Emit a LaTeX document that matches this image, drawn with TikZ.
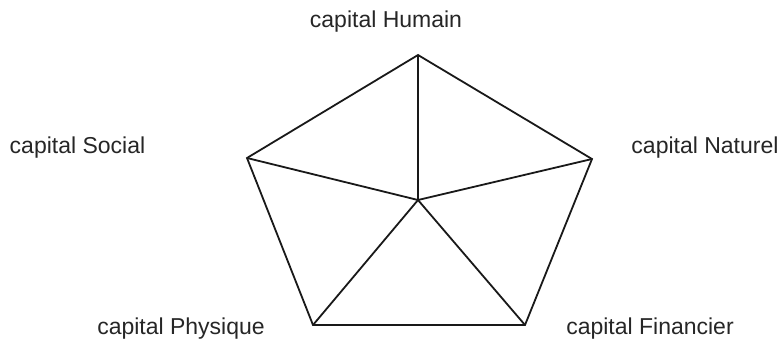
\documentclass[tikz,border=0pt]{standalone}
\usepackage{fontspec}
\setmainfont{Liberation Sans}
\begin{document}
\begin{tikzpicture}[x=1pt,y=-1pt,
  lab/.style={font=\fontsize{23}{27}\selectfont, text=black!85, inner sep=0pt},
  edge/.style={line width=1.8pt, line join=miter, black!90}]
\useasboundingbox (0,0) rectangle (779,340);
\coordinate (T) at (418,55);
\coordinate (R) at (592,159);
\coordinate (BR) at (525,325);
\coordinate (BL) at (313,325);
\coordinate (L) at (247,158);
\coordinate (C) at (418,200);
\draw[edge] (T) -- (R) -- (BR) -- (BL) -- (L) -- cycle;
\draw[edge] (C) -- (T);
\draw[edge] (C) -- (R);
\draw[edge] (C) -- (BR);
\draw[edge] (C) -- (BL);
\draw[edge] (C) -- (L);
\node[lab] (hum) at (386,22) {capital Humain};
\node[lab] (soc) at (77.5,148) {capital Social};
\node[lab] (nat) at (705,148) {capital Naturel};
\node[lab] (phy) at (181,329) {capital Physique};
\node[lab] (fin) at (650,329) {capital Financier};
\end{tikzpicture}
\end{document}
